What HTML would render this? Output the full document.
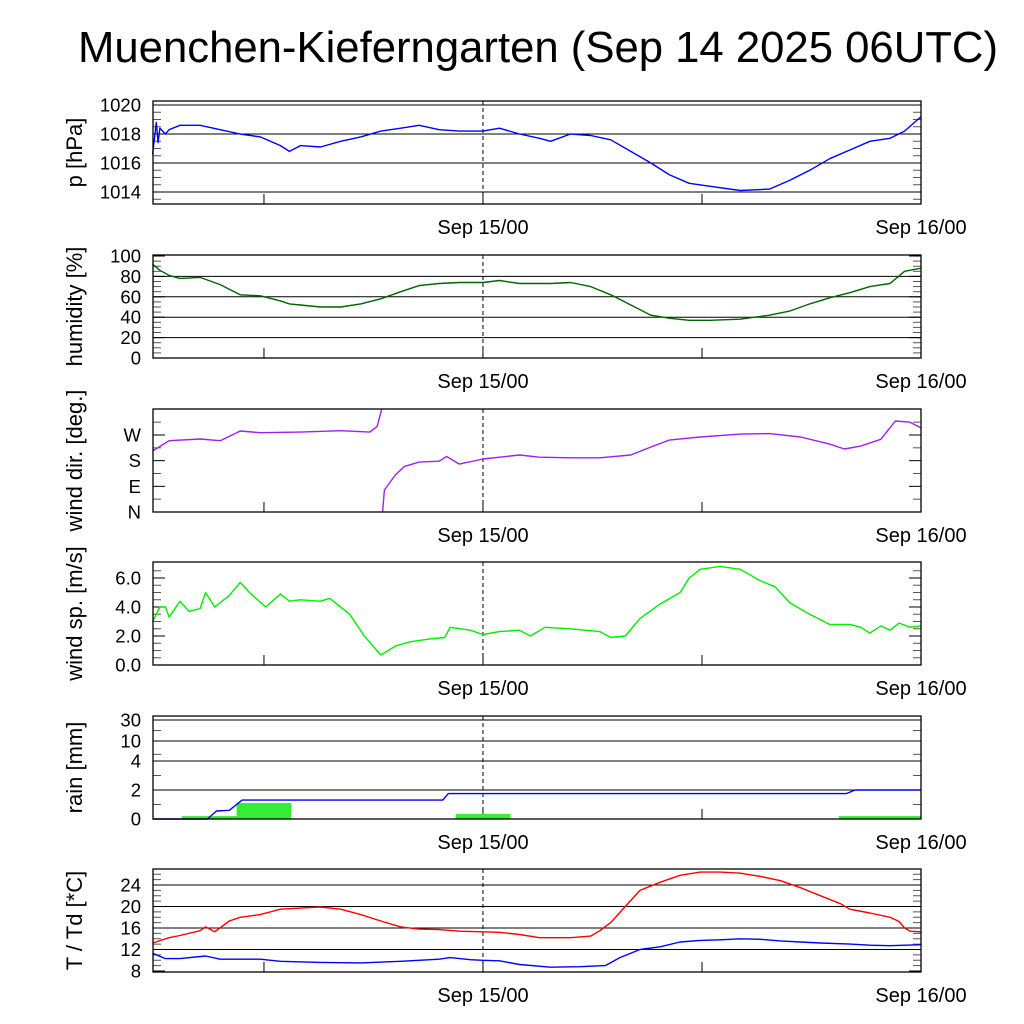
<!DOCTYPE html>
<html><head><meta charset="utf-8">
<style>
html,body{margin:0;padding:0;background:#fff;}
svg{display:block;font-family:"Liberation Sans",sans-serif;}
</style></head>
<body>
<svg id="chart" width="1024" height="1024" viewBox="0 0 1024 1024" xmlns="http://www.w3.org/2000/svg">
<rect width="1024" height="1024" fill="#fff"/>
<text x="538" y="62" font-size="44" text-anchor="middle" textLength="920" lengthAdjust="spacingAndGlyphs">Muenchen-Kieferngarten (Sep 14 2025 06UTC)</text>
</svg>
<script>
// ---- data (hours relative to Sep 15/00 UTC) ----
const pTimes=[-18.1,-17.9,-17.8,-17.7,-17.4,-17.2,-16.6,-15.5,-14.4,-13.3,-12.2,-11.1,-10.6,-10.0,-8.9,-7.8,-6.7,-5.6,-4.5,-3.5,-2.4,-1.3,0,0.9,2.0,3.1,3.7,4.8,5.9,7.0,8.1,9.2,10.2,11.3,12.4,14.1,15.7,16.8,17.9,19.0,20.1,21.2,22.3,23.1,24];
const pVals=[1016.6,1018.8,1017.4,1018.4,1018.0,1018.3,1018.6,1018.6,1018.3,1018.0,1017.8,1017.2,1016.8,1017.2,1017.1,1017.5,1017.8,1018.2,1018.4,1018.6,1018.3,1018.2,1018.2,1018.4,1018.0,1017.7,1017.5,1018.0,1017.9,1017.6,1016.8,1016.0,1015.2,1014.6,1014.4,1014.1,1014.2,1014.8,1015.5,1016.3,1016.9,1017.5,1017.7,1018.2,1019.2];
const hTimes=[-18.1,-17.7,-17.2,-16.6,-15.5,-14.4,-13.3,-12.2,-11.1,-10.6,-10.0,-8.9,-7.8,-6.7,-5.6,-4.5,-3.5,-2.4,-1.3,0,0.9,2.0,3.1,3.7,4.8,5.9,7.0,8.1,9.2,10.2,11.3,12.4,14.1,15.7,16.8,17.9,19.0,20.1,21.2,22.3,23.1,24];
const hVals=[92,86,81,78,79,72,62,61,56,53,52,50,50,53,58,65,71,73,74,74,76,73,73,73,74,70,62,52,42,39,37,37,38,42,46,53,59,64,70,73,85,88];
const dTimes=[-18.1,-17.2,-15.5,-14.4,-13.3,-12.2,-10.0,-7.8,-6.2,-5.8,-5.55,-5.5,-5.4,-4.8,-4.3,-3.5,-2.4,-2.0,-1.3,0,2.0,3.1,4.8,6.4,8.1,9.2,10.2,11.9,14.1,15.7,17.4,19.0,19.8,20.7,21.8,22.6,23.4,24];
const dVals=[214,250,256,250,284,278,280,285,280,300,360,0,77,130,160,175,178,195,168,186,200,192,190,190,200,228,252,263,273,275,263,238,221,231,255,319,315,295];
const sTimes=[-18.1,-17.7,-17.4,-17.2,-16.6,-16.1,-15.5,-15.2,-14.7,-13.9,-13.3,-12.8,-11.9,-11.1,-10.6,-10.0,-8.9,-8.4,-7.3,-6.5,-5.6,-4.8,-4.0,-2.9,-2.1,-1.8,-0.7,0,0.9,2.0,2.6,3.4,4.8,6.4,7.0,7.8,8.6,9.7,10.8,11.3,11.9,13.0,14.1,15.2,16.0,16.8,17.9,19.0,20.1,20.7,21.2,21.8,22.3,22.8,23.4,24];
const sVals=[3.0,4.0,4.0,3.3,4.4,3.7,3.9,5.0,4.0,4.8,5.7,5.0,4.0,4.9,4.4,4.5,4.4,4.6,3.5,2.0,0.7,1.3,1.6,1.8,1.9,2.6,2.4,2.1,2.3,2.4,2.0,2.6,2.5,2.3,1.9,2.0,3.2,4.2,5.0,6.0,6.6,6.8,6.6,5.8,5.4,4.3,3.5,2.8,2.8,2.6,2.2,2.7,2.4,2.9,2.6,2.7];
const rainStart=[-16.5,-13.5,-1.5,19.5];
const rainEnd=[-13.5,-10.5,1.5,24];
const rainVals=[0.2,1.1,0.35,0.2];
const cumTimes=[-18.1,-15.1,-14.6,-13.9,-13.2,-2.2,-1.9,19.9,20.4,24];
const cumVals=[0,0,0.55,0.6,1.3,1.3,1.75,1.75,2.0,2.0];
const tTimes=[-18.1,-17.2,-16.6,-15.5,-15.2,-14.7,-13.9,-13.3,-12.2,-11.1,-10.0,-8.9,-7.8,-6.7,-5.6,-4.5,-3.5,-2.4,-1.3,0,0.9,2.0,3.1,4.8,5.9,6.4,7.0,7.8,8.6,9.7,10.8,11.9,13.0,14.1,15.2,16.3,17.4,18.5,19.6,20.1,21.2,22.3,22.8,23.1,23.4,24];
const tVals=[13.2,14.2,14.6,15.5,16.2,15.3,17.3,18.0,18.5,19.5,19.7,19.9,19.5,18.5,17.3,16.2,15.8,15.7,15.4,15.3,15.2,14.8,14.2,14.2,14.5,15.5,17.0,20.0,23.0,24.5,25.8,26.4,26.4,26.2,25.6,24.8,23.5,22.0,20.5,19.5,18.8,18.0,17.2,16.0,15.4,15.3];
const tdTimes=[-18.1,-17.4,-16.6,-15.2,-14.4,-12.2,-11.1,-8.9,-6.7,-4.5,-2.4,-1.8,-0.7,0,0.9,2.0,3.7,5.3,6.7,7.5,8.6,9.7,10.8,11.9,13.0,14.1,15.2,16.3,17.4,18.5,20.1,21.2,22.3,24];
const tdVals=[11.3,10.3,10.3,10.8,10.2,10.2,9.8,9.6,9.5,9.8,10.2,10.5,10.1,10.0,9.9,9.2,8.7,8.8,9.0,10.5,12.0,12.5,13.4,13.7,13.8,14.0,13.9,13.6,13.4,13.2,13.0,12.8,12.7,12.9];
const pTicks=[1020,1018,1016,1014];
const hTicks=[100,80,60,40,20,0];
const dTicks=[0,90,180,270];
const dTickLabels=["N","E","S","W"];
const sTicks=[0,2,4,6];
const rTicks=[0,2,4,10,30];
const tTicks=[8,12,16,20,24];

// ---- layout ----
const svg=document.getElementById('chart');
const NS='http://www.w3.org/2000/svg';
const X0=153,X1=921,H0=-18.08,H1=24;
function xs(h){return X0+(h-H0)/(H1-H0)*(X1-X0);}
function el(tag,attrs,parent){const e=document.createElementNS(NS,tag);for(const k in attrs)e.setAttribute(k,attrs[k]);(parent||svg).appendChild(e);return e;}
function linY(v0,y0,v1,y1){return v=>y0+(v-v0)*(y1-y0)/(v1-v0);}
function pieceY(vals,ys){return v=>{for(let i=0;i<vals.length-1;i++){if(v<=vals[i+1]||i==vals.length-2){return ys[i]+(v-vals[i])*(ys[i+1]-ys[i])/(vals[i+1]-vals[i]);}}};}

function panel(cfg){
  const g=el('g',{});
  
  
  const top=cfg.top,bot=cfg.top+103;
  (cfg.grid||[]).forEach(v=>{const y=cfg.y(v);const l=el('line',{x1:X0,x2:X1,y1:y,y2:y,stroke:'#000','stroke-width':1},g);
    });
  (cfg.minor||[]).forEach(v=>{const y=cfg.y(v);if(y<top+2||y>bot-2)return;el('line',{x1:X0,x2:X0+8,y1:y,y2:y,stroke:'#555','stroke-width':1},g);el('line',{x1:X1-8,x2:X1,y1:y,y2:y,stroke:'#555','stroke-width':1},g);});
  cfg.ticks.forEach((v,i)=>{const y=cfg.y(v);el('line',{x1:X0,x2:X0+12,y1:y,y2:y,stroke:'#000'},g);el('line',{x1:X1-12,x2:X1,y1:y,y2:y,stroke:'#000'},g);
    const t=el('text',{x:141,y:y+6.5,'font-size':18.5,'text-anchor':'end'},g);t.textContent=cfg.labels?cfg.labels[i]:cfg.fmt(v);
    });
  [-12,12].forEach(h=>el('line',{x1:xs(h),x2:xs(h),y1:bot-10,y2:bot,stroke:'#000'},g));
  el('line',{x1:xs(0),x2:xs(0),y1:bot-12,y2:bot,stroke:'#000'},g);
  const d=el('line',{x1:xs(0),x2:xs(0),y1:top,y2:bot,stroke:'#000','stroke-dasharray':'4,3'},g);
  
  cfg.draw(g);
  const f=el('rect',{x:X0,y:top,width:X1-X0,height:bot-top,fill:'none',stroke:'#000','stroke-width':1.3},g);
  
  [[0,'Sep 15/00'],[24,'Sep 16/00']].forEach(([h,s])=>{const t=el('text',{x:xs(h),y:bot+30,'font-size':20,'text-anchor':'middle'},g);t.textContent=s;
    });
  const cy=(top+bot)/2;
  const tt=el('text',{x:0,y:0,'font-size':22,'text-anchor':'middle',transform:`translate(82,${cy}) rotate(-90)`},g);
  tt.textContent=cfg.title;
  
}
function line(g,times,vals,y,color,name,breakWrap){
  let d='';
  for(let i=0;i<times.length;i++){
    const cmd=(i==0||(breakWrap&&Math.abs(vals[i]-vals[i-1])>180))?'M':'L';
    d+=cmd+xs(times[i]).toFixed(1)+','+y(vals[i]).toFixed(1)+' ';
  }
  const p=el('path',{d:d,fill:'none',stroke:color,'stroke-width':1.4,'stroke-linejoin':'round'},g);
  
  
}
function range(a,b,s){const r=[];for(let v=a;v<=b+1e-9;v+=s)r.push(+v.toFixed(3));return r;}

const yP=linY(1020,105,1014,192);
panel({name:'pressure',top:101,y:yP,ticks:pTicks,fmt:v=>String(v),grid:pTicks,minor:range(1013.5,1020,0.5),title:'p [hPa]',
  draw:g=>line(g,pTimes,pVals,yP,'#0000ff','pressure-line')});
const yH=linY(0,358,100,256);
panel({name:'humidity',top:255,y:yH,ticks:hTicks,fmt:v=>String(v),grid:hTicks.filter(v=>v>0&&v<100),minor:range(0,100,5),title:'humidity [%]',
  draw:g=>line(g,hTimes,hVals,yH,'#006400','humidity-line')});
const yD=linY(0,512,270,435);
panel({name:'wind-direction',top:409,y:yD,ticks:dTicks,labels:dTickLabels,grid:[],minor:range(45,315,90),title:'wind dir. [deg.]',
  draw:g=>line(g,dTimes,dVals,yD,'#a020f0','wind-direction-line',true)});
const yS=linY(0,665,6,578);
panel({name:'wind-speed',top:562,y:yS,ticks:sTicks,fmt:v=>v.toFixed(1),grid:[],minor:range(0,7,0.5),title:'wind sp. [m/s]',
  draw:g=>line(g,sTimes,sVals,yS,'#00ee00','wind-speed-line')});
const yR=pieceY([0,2,4,10,30],[819,790,761,741,720]);
panel({name:'rain',top:716,y:yR,ticks:rTicks,fmt:v=>String(v),grid:rTicks.filter(v=>v>0),minor:[1,3,6,20],title:'rain [mm]',
  draw:g=>{
    for(let i=0;i<rainVals.length;i++){
      const y=yR(rainVals[i]);
      const r=el('rect',{x:xs(rainStart[i]),y:y,width:Math.min(xs(rainEnd[i]),X1)-xs(rainStart[i]),height:819-y,fill:'#33ee33'},g);
      
      
    }
    line(g,cumTimes,cumVals,yR,'#0000ff','cumulative-rain-line');
  }});
const yT=linY(8,971,24,885);
panel({name:'temperature',top:869,y:yT,ticks:tTicks,fmt:v=>String(v),grid:tTicks.filter(v=>v>8),minor:range(9,26,1),title:'T / Td [*C]',
  draw:g=>{line(g,tdTimes,tdVals,yT,'#0000ff','dewpoint-line');line(g,tTimes,tVals,yT,'#ff0000','temperature-line');}});
</script>
</body></html>
